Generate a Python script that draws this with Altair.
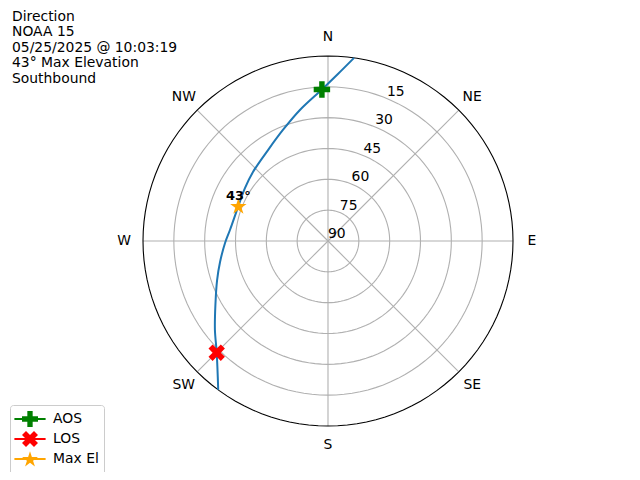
import math
import altair as alt
import pandas as pd

# ---------------- data ----------------
traj_az = [8.1, 3.4, 357.7, 347.9, 337.9, 326.6, 312.6, 302.6, 291.3, 276.4,
           268.9, 259.0, 250.6, 240.4, 231.8, 224.9, 216.4]
traj_el = [0.0, 8.6, 16.2, 24.8, 31.7, 37.0, 40.4, 42.1, 43.2, 42.0,
           39.9, 36.5, 32.8, 27.0, 20.0, 13.3, 0.0]

event_names = ["AOS", "LOS", "Max El"]
event_az = [357.7, 224.9, 291.3]
event_el = [16.2, 13.3, 43.2]
event_colors = ["green", "red", "orange"]
max_el_text = "43°"

ring_zenith = [15, 30, 45, 60, 75]
ring_labels = ["15", "30", "45", "60", "75", "90"]
compass_names = ["N", "NE", "E", "SE", "S", "SW", "W", "NW"]
compass_az = [0, 45, 90, 135, 180, 225, 270, 315]

title_lines = ["Direction", "NOAA 15", "05/25/2025 @ 10:03:19",
               "43° Max Elevation", "Southbound"]

FONT = "DejaVu Sans"
FS = 13.9

# ---------------- marker paths ----------------
def fix_winding(pts):
    a = sum(pts[i][0] * pts[(i + 1) % len(pts)][1] - pts[(i + 1) % len(pts)][0] * pts[i][1]
            for i in range(len(pts)))
    return pts if a > 0 else pts[::-1]

def to_path(polys):
    s = ""
    for p in polys:
        p = fix_winding(p)
        s += "M" + "L".join(f"{x:.3f},{y:.3f}" for x, y in p) + "Z"
    return s

t = 1 / 3
plus_pts = [(-t, -1), (t, -1), (t, -t), (1, -t), (1, t), (t, t), (t, 1), (-t, 1),
            (-t, t), (-1, t), (-1, -t), (-t, -t)]
c45 = math.cos(math.pi / 4)
x_pts = [((x - y) * c45 * 1.06, (x + y) * c45 * 1.06) for x, y in plus_pts]
star_pts = []
for k in range(10):
    r = 1.0 if k % 2 == 0 else 0.381966
    ang = -math.pi / 2 + k * math.pi / 5
    star_pts.append((r * math.cos(ang) * 1.05, r * math.sin(ang) * 1.05 + 0.08))

L, H = 1.95, 0.12
line_pts = [(-L, -H), (L, -H), (L, H), (-L, H)]

shape_paths = [to_path([plus_pts]), to_path([x_pts]), to_path([star_pts])]
legend_paths = [to_path([line_pts, plus_pts]), to_path([line_pts, x_pts]),
                to_path([line_pts, star_pts])]

# ---------------- tables ----------------
traj = pd.DataFrame({"i": range(len(traj_az)), "az": traj_az, "el": traj_el})
events = pd.DataFrame({"name": event_names, "az": event_az, "el": event_el})
maxel = pd.DataFrame({"az": [event_az[2]], "el": [event_el[2]], "t": [max_el_text]})

ring_rows = []
for z in ring_zenith + [90]:
    for a in range(0, 361, 3):
        ring_rows.append({"ring": z, "a": a, "z": z})
rings = pd.DataFrame(ring_rows)

spokes = pd.DataFrame({"az": compass_az})
compass = pd.DataFrame({"name": compass_names, "az": compass_az})
rlabels = pd.DataFrame({"t": ring_labels, "z": [90 - int(v) for v in ring_labels]})
title_df = pd.DataFrame({"t": ["\n".join(title_lines)]})

# ---------------- scales ----------------
PX = 185 / 90
W, Hh = 608, 448
cx, cy = 312, 225
xs = alt.Scale(domain=[-cx / PX, (W - cx) / PX], nice=False, zero=False)
ys = alt.Scale(domain=[-(Hh - cy) / PX, cy / PX], nice=False, zero=False)

def X(f):
    return alt.X(f, type="quantitative", scale=xs, axis=None)

def Y(f):
    return alt.Y(f, type="quantitative", scale=ys, axis=None)

polar = dict(x="(90 - datum.el) * sin(datum.az * PI / 180)",
             y="(90 - datum.el) * cos(datum.az * PI / 180)")

grid = alt.Chart(rings).transform_filter("datum.ring < 90").transform_calculate(
    x="datum.z * sin(datum.a * PI / 180)", y="datum.z * cos(datum.a * PI / 180)"
).mark_line(color="#b0b0b0", strokeWidth=1.1).encode(
    x=X("x"), y=Y("y"), detail="ring:N", order="a:Q")

outer = alt.Chart(rings).transform_filter("datum.ring == 90").transform_calculate(
    x="datum.z * sin(datum.a * PI / 180)", y="datum.z * cos(datum.a * PI / 180)"
).mark_line(color="black", strokeWidth=1.1).encode(
    x=X("x"), y=Y("y"), detail="ring:N", order="a:Q")

spoke = alt.Chart(spokes).transform_calculate(
    x0="0", y0="0",
    x1="90 * sin(datum.az * PI / 180)", y1="90 * cos(datum.az * PI / 180)"
).mark_rule(color="#b0b0b0", strokeWidth=1.1).encode(
    x=X("x0"), y=Y("y0"), x2="x1:Q", y2="y1:Q")

comp = alt.Chart(compass).transform_calculate(
    x="99.2 * sin(datum.az * PI / 180)", y="99.2 * cos(datum.az * PI / 180)"
).mark_text(font=FONT, fontSize=FS, color="black", align="center", baseline="middle").encode(
    x=X("x"), y=Y("y"), text="name:N")

rlab = alt.Chart(rlabels).transform_calculate(
    x="datum.z * sin(22.5 * PI / 180)", y="datum.z * cos(22.5 * PI / 180)"
).mark_text(font=FONT, fontSize=FS, color="black", align="left", baseline="bottom").encode(
    x=X("x"), y=Y("y"), text="t:N")

line = alt.Chart(traj).transform_calculate(**polar).mark_line(
    color="#1f77b4", strokeWidth=2.0, interpolate="catmull-rom").encode(
    x=X("x"), y=Y("y"), order="i:Q")

pts = alt.Chart(events).transform_calculate(**polar).mark_point(
    filled=True, size=270, opacity=1).encode(
    x=X("x"), y=Y("y"),
    color=alt.Color("name:N", scale=alt.Scale(domain=event_names, range=event_colors),
                    legend=None),
    shape=alt.Shape("name:N", scale=alt.Scale(domain=event_names, range=shape_paths),
                    legend=None))

# legend-only layer: no marks drawn, legend built from the explicit scale domains
leg = alt.Chart(events).transform_filter("false").mark_point(
    filled=True, size=256, opacity=1).encode(
    x=X("az"), y=Y("el"),
    color=alt.Color("name:N", scale=alt.Scale(domain=event_names, range=event_colors),
                    legend=alt.Legend(title=None, orient="none", legendX=-6, legendY=389)),
    shape=alt.Shape("name:N", scale=alt.Scale(domain=event_names, range=legend_paths),
                    legend=alt.Legend(title=None, orient="none", legendX=-6, legendY=389)))

maxlab = alt.Chart(maxel).transform_calculate(**polar).mark_text(
    font=FONT, fontSize=13, fontWeight="bold", color="black",
    align="center", baseline="alphabetic", dy=-6).encode(
    x=X("x"), y=Y("y"), text="t:N")

title = alt.Chart(title_df).mark_text(
    font=FONT, fontSize=FS, color="black", align="left", baseline="alphabetic",
    lineBreak="\n", lineHeight=15.6).encode(
    x=alt.value(-4), y=alt.value(4.6), text="t:N")

chart = alt.layer(grid, spoke, outer, rlab, comp, line, pts, leg, maxlab, title).resolve_scale(
    color="independent", shape="independent"
).properties(
    width=W, height=Hh, padding=8, autosize=alt.AutoSizeParams(type="none")
).configure_view(stroke=None).configure_legend(
    labelFont=FONT, labelFontSize=FS, labelColor="black",
    symbolSize=256, rowPadding=-2, padding=5,
    strokeColor="#cccccc", fillColor="white", cornerRadius=3,
    symbolOffset=6, labelOffset=14, symbolOpacity=1
)

chart.save("out.html", embed_options={"renderer": "svg", "actions": False})
